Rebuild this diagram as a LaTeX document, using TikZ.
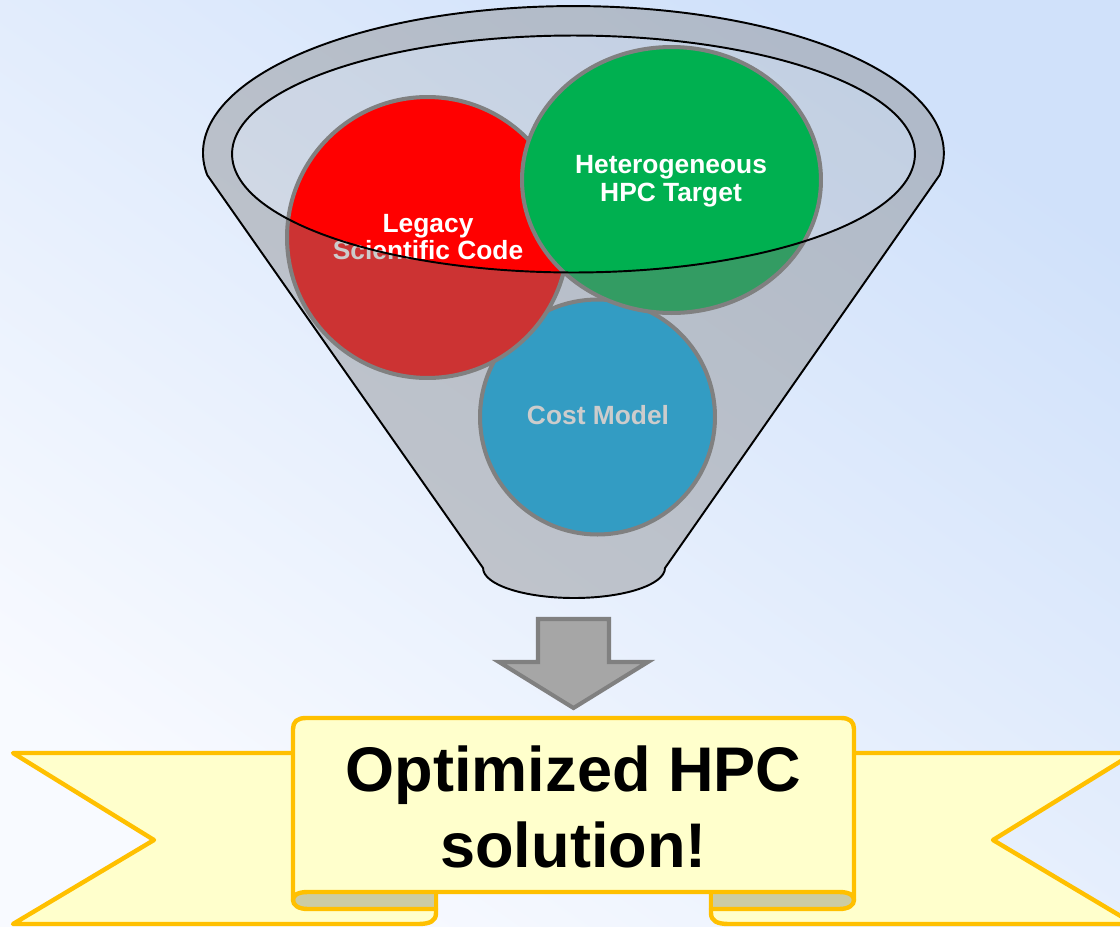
\documentclass[tikz,border=0pt]{standalone}
\usepackage{fontspec}
\setmainfont{Liberation Sans}
\usetikzlibrary{shapes.geometric}

\definecolor{bgblue}{RGB}{208,225,250}
\definecolor{bgwhite}{RGB}{248,250,255}
\definecolor{shadegray}{RGB}{128,128,128}
\definecolor{legacyred}{RGB}{255,0,0}
\definecolor{hpcgreen}{RGB}{0,176,80}
\definecolor{costblue}{RGB}{0,176,240}
\definecolor{ribbonfill}{RGB}{255,255,204}
\definecolor{ribbonedge}{RGB}{255,192,0}
\definecolor{ribbonfold}{RGB}{204,204,164}
\definecolor{arrowfill}{RGB}{166,166,166}

\tikzset{
  funnelline/.style={draw=black, line width=1.1pt},
  disc/.style={draw=shadegray, line width=2.3pt, inner sep=0pt, outer sep=0pt},
  disclabel/.style={text=white, font=\fontsize{15}{18}\selectfont\bfseries,
    anchor=base, inner sep=0pt},
  ribbon/.style={fill=ribbonfill, draw=ribbonedge, line width=2.5pt, line join=round},
  foldedge/.style={draw=ribbonedge, line width=2.5pt, line cap=round},
  blockarrow/.style={fill=arrowfill, draw=shadegray, line width=2.3pt, line join=miter},
  banner text/.style={font=\fontsize{35.9}{40}\selectfont\bfseries, anchor=base,
    inner sep=0pt, text=black}
}

\begin{document}
\begin{tikzpicture}[x=0.02cm, y=-0.02cm]
  \useasboundingbox (0,0) rectangle (1120,927);
  \clip (0,0) rectangle (1120,927);

  % backdrop
  \shade[top color=bgblue, bottom color=bgwhite, shading angle=-35]
    (0,0) rectangle (1120,927);

  % funnel key points
  \coordinate (rimL) at (207.2,175);
  \coordinate (rimR) at (939.8,175);
  \coordinate (neckR) at (665,568);
  \coordinate (neckL) at (483,568);
  \coordinate (mouth) at (573.5,154);

  % inside of the funnel mouth
  \fill[shadegray, fill opacity=0.18] (mouth) ellipse[x radius=6.83cm, y radius=2.37cm];

  % the three ingredients
  \node[disc, circle, fill=costblue, minimum size=4.7cm] (cost) at (597.5,417) {};
  \node[disc, circle, fill=legacyred, minimum size=5.62cm] (legacy) at (427.5,237.5) {};
  \node[disc, ellipse, fill=hpcgreen, minimum width=5.98cm, minimum height=5.32cm]
    (target) at (671.5,180) {};

  \node[disclabel] (legacyA) at (428,232) {Legacy};
  \node[disclabel] (legacyB) at (428,259) {Scientific Code};
  \node[disclabel] (targetA) at (671,173) {Heterogeneous};
  \node[disclabel] (targetB) at (671,201) {HPC Target};
  \node[disclabel] (costA) at (598,424) {Cost Model};

  % front wall of the funnel, seen through
  \path[fill=shadegray, fill opacity=0.4, even odd rule]
    (rimL) arc[start angle=188.6, end angle=-8.6, x radius=7.41cm, y radius=2.94cm]
    -- (neckR) arc[start angle=0, end angle=-180, x radius=1.82cm, y radius=0.6cm]
    -- cycle
    (mouth) ellipse[x radius=6.83cm, y radius=2.37cm];

  % funnel outlines
  \path[funnelline, line join=round]
    (rimL) arc[start angle=188.6, end angle=-8.6, x radius=7.41cm, y radius=2.94cm]
    -- (neckR) arc[start angle=0, end angle=-180, x radius=1.82cm, y radius=0.6cm]
    -- cycle;
  \path[funnelline] (mouth) ellipse[x radius=6.83cm, y radius=2.37cm];

  % downward block arrow
  \path[blockarrow] (538,619) -- (609,619) -- (609,662) -- (648,662)
    -- (573.5,708) -- (499,662) -- (538,662) -- cycle;

  % ribbon tails
  \path[ribbon] (13,753) -- (436,753) -- (436,913)
    .. controls (436,921) and (430,924) .. (418,924) -- (13,924) -- (154,840) -- cycle;
  \path[ribbon] (1134,753) -- (711,753) -- (711,913)
    .. controls (711,921) and (717,924) .. (729,924) -- (1134,924) -- (993,840) -- cycle;

  % folds under the front panel
  \fill[ribbonfold] (436,890) -- (436,909) -- (308,909)
    .. controls (298,909) and (293,905) .. (293,900) -- (293,890) -- cycle;
  \path[foldedge] (293,900) .. controls (293,905) and (298,909) .. (308,909) -- (436,909);
  \path[foldedge] (436,888) -- (436,912);
  \fill[ribbonfold] (711,890) -- (711,909) -- (839,909)
    .. controls (849,909) and (854,905) .. (854,900) -- (854,890) -- cycle;
  \path[foldedge] (854,900) .. controls (854,905) and (849,909) .. (839,909) -- (711,909);
  \path[foldedge] (711,888) -- (711,912);

  % front panel
  \path[ribbon] (293,900) -- (293,729) .. controls (293,722) and (297,718) .. (306,718)
    -- (841,718) .. controls (850,718) and (854,722) .. (854,729) -- (854,900)
    .. controls (854,895) and (849,892) .. (839,892) -- (308,892)
    .. controls (298,892) and (293,895) .. (293,900) -- cycle;

  \node[banner text] (bannerA) at (573.5,791) {Optimized HPC};
  \node[banner text] (bannerB) at (573.5,867) {solution!};
\end{tikzpicture}
\end{document}
